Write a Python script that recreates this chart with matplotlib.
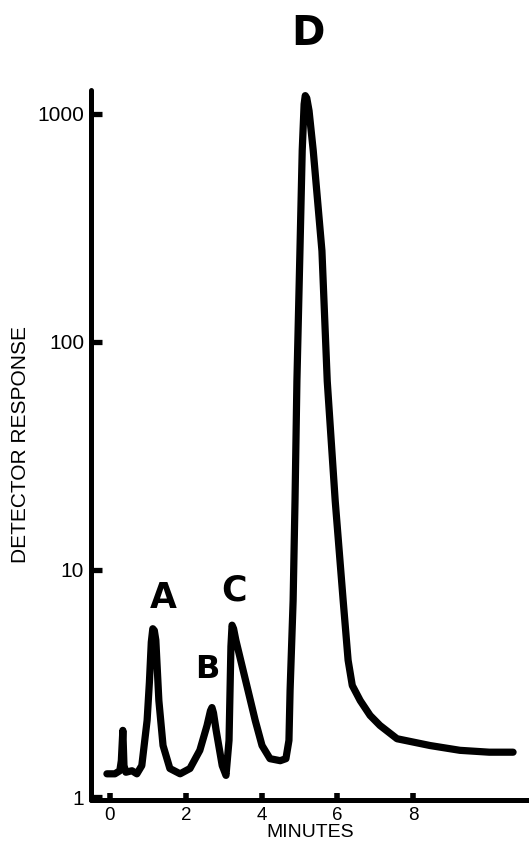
import matplotlib
matplotlib.use("Agg")
import matplotlib.pyplot as plt
from matplotlib.ticker import FixedLocator, NullLocator, FixedFormatter

# chromatogram trace (minutes, detector response)
TIME = [-0.08, 0.13, 0.26, 0.30, 0.34, 0.37, 0.42, 0.58, 0.71, 0.84,
        0.98, 1.04, 1.09, 1.13, 1.17, 1.21, 1.29, 1.40, 1.58, 1.85,
        2.11, 2.37, 2.56, 2.65, 2.69, 2.73, 2.80, 2.96, 3.06, 3.14,
        3.19, 3.22, 3.26, 3.32, 3.48, 3.64, 3.83, 4.01, 4.22, 4.49,
        4.64, 4.72, 4.75, 4.83, 4.88, 4.93, 5.01, 5.07, 5.12, 5.15,
        5.19, 5.25, 5.36, 5.59, 5.73, 5.94, 6.15, 6.28, 6.39, 6.60,
        6.86, 7.12, 7.57, 8.44, 9.23, 10.0, 10.63]
RESPONSE = [1.27, 1.27, 1.31, 1.45, 1.97, 1.38, 1.29, 1.31, 1.27, 1.38,
            2.18, 3.2, 4.8, 5.5, 5.4, 4.9, 2.66, 1.69, 1.34, 1.27,
            1.34, 1.61, 2.07, 2.4, 2.48, 2.35, 1.97, 1.38, 1.25, 1.78,
            4.6, 5.7, 5.5, 4.9, 3.8, 2.95, 2.18, 1.69, 1.48, 1.45,
            1.48, 1.78, 2.95, 7.3, 20, 67, 250, 690, 1100, 1200,
            1170, 1030, 690, 250, 67, 20, 7.3, 4.0, 3.1, 2.66,
            2.29, 2.07, 1.81, 1.69, 1.61, 1.58, 1.58]

PEAK_LABELS = ["A", "B", "C", "D"]
PEAK_POS = [(1.40, 7.5), (2.56, 3.65), (3.27, 8.1), (5.22, 2230)]
PEAK_SIZE = [25, 23, 25, 29]

X_TICKS = [0, 2, 4, 6, 8]
Y_TICKS = [1, 10, 100, 1000]
Y_TICK_LABELS = ["1", "10", "100", "1000"]

plt.rcParams["font.family"] = ["Liberation Sans", "DejaVu Sans"]

fig = plt.figure(figsize=(5.29, 8.46), dpi=100)
ax = fig.add_axes([0.172, 0.0544, 0.828, 0.8392])

ax.plot(TIME, RESPONSE, color="black", lw=5.2,
        solid_joinstyle="round", solid_capstyle="round")

ax.set_yscale("log")
ax.set_xlim(-0.5, 11.05)
ax.set_ylim(0.975, 1270)

ax.yaxis.set_major_locator(FixedLocator(Y_TICKS))
ax.yaxis.set_major_formatter(FixedFormatter(Y_TICK_LABELS))
ax.yaxis.set_minor_locator(NullLocator())
ax.set_xticks(X_TICKS)
ax.set_xticklabels([str(t) for t in X_TICKS])

ax.spines[["top", "right"]].set_visible(False)
for s in ["left", "bottom"]:
    ax.spines[s].set_linewidth(3.6)
    ax.spines[s].set_capstyle("round")

ax.tick_params(axis="y", direction="in", length=8, width=3.8,
               labelsize=15, pad=5)
ax.tick_params(axis="x", direction="in", length=5, width=4,
               labelsize=13.5, pad=5)

ax.set_xlabel("MINUTES", fontsize=14, labelpad=0)
ax.set_ylabel("DETECTOR RESPONSE", fontsize=15, labelpad=5)

for lab, (x, y), fs in zip(PEAK_LABELS, PEAK_POS, PEAK_SIZE):
    ax.text(x, y, lab, fontsize=fs, ha="center", va="center",
            family="DejaVu Sans", fontweight="bold", clip_on=False)

fig.savefig("out.png", dpi=100)
